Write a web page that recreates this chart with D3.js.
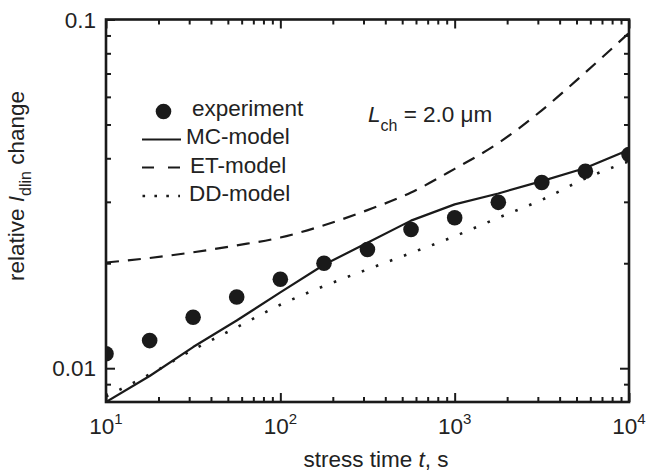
<!DOCTYPE html>
<html>
<head>
<meta charset="utf-8">
<script src="https://cdn.jsdelivr.net/npm/d3@7"></script>
<style>
  html, body { margin: 0; padding: 0; background: #fff; }
  svg { display: block; }
  text { font-family: "Liberation Sans", Arial, Helvetica, sans-serif; fill: #222; }
</style>
</head>
<body>
<svg id="chart" width="648" height="472"></svg>
<script>
// ---- data ----
const times = [10, 17.8, 31.6, 56.2, 100, 178, 316, 562, 1000, 1780, 3160, 5620, 10000];
const experiment = [0.0110, 0.0120, 0.0140, 0.0160, 0.0180, 0.0200, 0.0219, 0.0250, 0.0270, 0.0299, 0.0341, 0.0367, 0.0410];
const mcModel = [0.0080, 0.0095, 0.0115, 0.0137, 0.0165, 0.0198, 0.0229, 0.0265, 0.0295, 0.0317, 0.0344, 0.0375, 0.0423];
const etModel = [0.0201, 0.0207, 0.0215, 0.0225, 0.0237, 0.0257, 0.0284, 0.0319, 0.0373, 0.0442, 0.0549, 0.0705, 0.0915];
const ddModel = [0.0083, 0.0096, 0.0113, 0.0131, 0.0152, 0.0172, 0.0192, 0.0214, 0.0239, 0.0270, 0.0304, 0.0350, 0.0392];

const xMajorTicks = [10, 100, 1000, 10000];
const xTickExponents = ["1", "2", "3", "4"];
const xMinorTicks = [20,30,40,50,60,70,80,90,200,300,400,500,600,700,800,900,2000,3000,4000,5000,6000,7000,8000,9000];
const yMajorTicks = [0.01, 0.1];
const yTickLabels = ["0.01", "0.1"];
const yMinorTicks = [0.009,0.02,0.03,0.04,0.05,0.06,0.07,0.08,0.09];

const seriesNames = ["experiment", "MC-model", "ET-model", "DD-model"];

// ---- layout ----
const svg = d3.select("#chart");
const L = 106, R = 629, T = 19.5, B = 402;
const FS = 22.5;

const x = d3.scaleLog().domain([10, 10000]).range([L, R]);
const y = d3.scaleLog().domain([0.008, 0.1]).range([B, T]);

svg.append("defs").append("clipPath").attr("id", "plotclip")
  .append("rect").attr("x", L).attr("y", T).attr("width", R - L).attr("height", B - T);

const plot = svg.append("g").attr("clip-path", "url(#plotclip)");

const toPts = vals => times.map((t, i) => ({ t, v: vals[i] }));
const smooth = d3.line().x(d => x(d.t)).y(d => y(d.v)).curve(d3.curveMonotoneX);
const straight = d3.line().x(d => x(d.t)).y(d => y(d.v));

plot.append("path").datum(toPts(etModel)).attr("d", smooth)
  .attr("fill", "none").attr("stroke", "#1a1a1a").attr("stroke-width", 2.2)
  .attr("stroke-dasharray", "13,9");
plot.append("path").datum(toPts(ddModel)).attr("d", smooth)
  .attr("fill", "none").attr("stroke", "#1a1a1a").attr("stroke-width", 2.6)
  .attr("stroke-dasharray", "2.6,12.4");
plot.append("path").datum(toPts(mcModel)).attr("d", straight)
  .attr("fill", "none").attr("stroke", "#1a1a1a").attr("stroke-width", 2.2)
  .attr("stroke-linejoin", "round");

plot.selectAll("circle.exp").data(toPts(experiment)).join("circle")
  .attr("class", "exp")
  .attr("cx", d => x(d.t)).attr("cy", d => y(d.v)).attr("r", 7.8)
  .attr("fill", "#1a1a1a");

// ---- axes (ticks inward on all four sides) ----
function axisStyle(g) {
  g.select(".domain").remove();
  g.selectAll(".tick line").attr("stroke", "#1a1a1a").attr("stroke-width", 2);
  g.selectAll(".tick text").remove();
}
svg.append("g").attr("transform", `translate(0,${B})`)
  .call(d3.axisBottom(x).tickValues(xMajorTicks).tickSize(-9).tickSizeOuter(0)).call(axisStyle);
svg.append("g").attr("transform", `translate(0,${B})`)
  .call(d3.axisBottom(x).tickValues(xMinorTicks).tickSize(-5).tickSizeOuter(0)).call(axisStyle);
svg.append("g").attr("transform", `translate(0,${T})`)
  .call(d3.axisTop(x).tickValues(xMajorTicks).tickSize(-9).tickSizeOuter(0)).call(axisStyle);
svg.append("g").attr("transform", `translate(0,${T})`)
  .call(d3.axisTop(x).tickValues(xMinorTicks).tickSize(-5).tickSizeOuter(0)).call(axisStyle);
svg.append("g").attr("transform", `translate(${L},0)`)
  .call(d3.axisLeft(y).tickValues(yMajorTicks).tickSize(-9).tickSizeOuter(0)).call(axisStyle);
svg.append("g").attr("transform", `translate(${L},0)`)
  .call(d3.axisLeft(y).tickValues(yMinorTicks).tickSize(-5).tickSizeOuter(0)).call(axisStyle);
svg.append("g").attr("transform", `translate(${R},0)`)
  .call(d3.axisRight(y).tickValues(yMajorTicks).tickSize(-9).tickSizeOuter(0)).call(axisStyle);
svg.append("g").attr("transform", `translate(${R},0)`)
  .call(d3.axisRight(y).tickValues(yMinorTicks).tickSize(-5).tickSizeOuter(0)).call(axisStyle);

svg.append("rect").attr("x", L).attr("y", T).attr("width", R - L).attr("height", B - T)
  .attr("fill", "none").attr("stroke", "#1a1a1a").attr("stroke-width", 2.6);

// tick labels
xMajorTicks.forEach((v, i) => {
  const t = svg.append("text").attr("x", x(v)).attr("y", 434)
    .attr("text-anchor", "middle").attr("font-size", FS);
  t.append("tspan").text("10");
  t.append("tspan").attr("font-size", 15).attr("dy", -10).text(xTickExponents[i]);
});
yMajorTicks.forEach((v, i) => {
  svg.append("text").attr("x", 96).attr("y", y(v)).attr("dy", "0.36em")
    .attr("text-anchor", "end").attr("font-size", FS).text(yTickLabels[i]);
});

// axis titles
const xt = svg.append("text").attr("x", 376).attr("y", 467)
  .attr("text-anchor", "middle").attr("font-size", FS);
xt.append("tspan").text("stress time ");
xt.append("tspan").attr("font-style", "italic").text("t");
xt.append("tspan").text(", s");

const yt = svg.append("text").attr("transform", "translate(24,186) rotate(-90)")
  .attr("text-anchor", "middle").attr("font-size", FS);
yt.append("tspan").text("relative ");
yt.append("tspan").attr("font-style", "italic").text("I");
yt.append("tspan").attr("font-size", 16).attr("dy", 7).text("dlin");
yt.append("tspan").attr("dy", -7).text(" change");

// annotation
const an = svg.append("text").attr("x", 368).attr("y", 122).attr("font-size", FS);
an.append("tspan").attr("font-style", "italic").text("L");
an.append("tspan").attr("font-size", 16).attr("dy", 9).text("ch");
an.append("tspan").attr("dy", -9).text(" = 2.0 \u03bcm");

// legend
const lg = svg.append("g");
lg.append("circle").attr("cx", 163.5).attr("cy", 111.5).attr("r", 7.8).attr("fill", "#1a1a1a");
lg.append("text").attr("x", 192).attr("y", 116).attr("font-size", FS).text(seriesNames[0]);
lg.append("line").attr("x1", 142).attr("x2", 181).attr("y1", 139.5).attr("y2", 139.5)
  .attr("stroke", "#1a1a1a").attr("stroke-width", 2.2);
lg.append("text").attr("x", 186).attr("y", 144).attr("font-size", FS).text(seriesNames[1]);
lg.append("line").attr("x1", 142).attr("x2", 180).attr("y1", 167.5).attr("y2", 167.5)
  .attr("stroke", "#1a1a1a").attr("stroke-width", 2.2).attr("stroke-dasharray", "12,14");
lg.append("text").attr("x", 190).attr("y", 172.5).attr("font-size", FS).text(seriesNames[2]);
lg.append("line").attr("x1", 142.5).attr("x2", 180).attr("y1", 196).attr("y2", 196)
  .attr("stroke", "#1a1a1a").attr("stroke-width", 2.6).attr("stroke-dasharray", "2.6,9.3");
lg.append("text").attr("x", 189).attr("y", 201).attr("font-size", FS).text(seriesNames[3]);
</script>
</body>
</html>
